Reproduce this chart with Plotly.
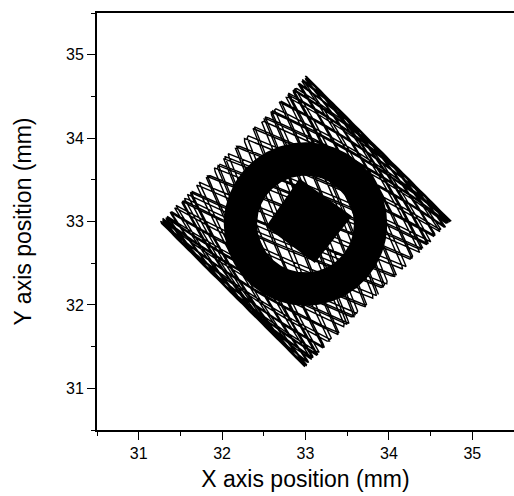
import numpy as np
import plotly.graph_objects as go

# ---- values ----
x_ticks = [31, 32, 33, 34, 35]
y_ticks = [31, 32, 33, 34, 35]
axis_range = [30.5, 35.5]

scan_center = [33.0, 33.0]        # centre of the rotated-square scan field (mm)
scan_half_diag = 1.75             # corner distance from centre (mm)
scan_fast_per_slow = 3.618        # fast zig-zag periods per slow sweep period
scan_slow_periods = 16            # number of slow sweep periods

ring_center = [33.0, 32.97]
ring_radii = [0.58, 0.98]         # inner, outer (mm)

core_x = [32.54, 32.93, 33.54, 33.11]
core_y = [32.94, 33.50, 33.06, 32.52]

# ---- scan trajectory (Lissajous-type: fast triangle, slow sine) ----
a = scan_half_diag / np.sqrt(2)
n_half = int(round(2 * scan_fast_per_slow * scan_slow_periods))
t = np.linspace(0, scan_slow_periods, n_half * 40 + 1)
u = scan_fast_per_slow * t
s = a * (1 - 4 * np.abs(u - np.round(u)))
p = a * np.sin(2 * np.pi * t)
sx = scan_center[0] + (s + p) / np.sqrt(2)
sy = scan_center[1] + (p - s) / np.sqrt(2)

th = np.linspace(0, 2 * np.pi, 181)
ring_x = np.concatenate([ring_center[0] + ring_radii[1] * np.cos(th),
                         ring_center[0] + ring_radii[0] * np.cos(-th)])
ring_y = np.concatenate([ring_center[1] + ring_radii[1] * np.sin(th),
                         ring_center[1] + ring_radii[0] * np.sin(-th)])

fig = go.Figure()
fig.add_trace(go.Scatter(x=sx, y=sy, mode="lines",
                         line=dict(color="black", width=1.4), hoverinfo="skip"))
fig.add_trace(go.Scatter(x=ring_x, y=ring_y, mode="lines", fill="toself",
                         fillcolor="black", line=dict(width=0), hoverinfo="skip"))
fig.add_trace(go.Scatter(x=core_x + core_x[:1], y=core_y + core_y[:1], mode="lines",
                         fill="toself", fillcolor="black",
                         line=dict(color="black", width=2), hoverinfo="skip"))

font = "Liberation Sans, Arial, sans-serif"
axis_common = dict(
    range=axis_range, showgrid=False, zeroline=False,
    showline=True, linecolor="black", linewidth=1.8,
    ticks="outside", ticklen=8, tickwidth=1.3, tickcolor="black",
    tickfont=dict(family=font, size=16, color="black"),
    minor=dict(ticks="outside", ticklen=4, tickwidth=1.1, tickcolor="black", dtick=0.5),
)
fig.update_layout(
    width=514, height=496,
    margin=dict(l=97, r=0, t=13, b=66),
    paper_bgcolor="white", plot_bgcolor="white",
    showlegend=False,
    xaxis=dict(**axis_common, tickvals=x_ticks, mirror=True,
               title=dict(text="X axis position (mm)",
                          font=dict(family=font, size=23, color="black"), standoff=10)),
    yaxis=dict(**axis_common, tickvals=y_ticks,
               title=dict(text="Y axis position (mm)",
                          font=dict(family=font, size=23, color="black"), standoff=28)),
)
fig.write_html("out.html")
